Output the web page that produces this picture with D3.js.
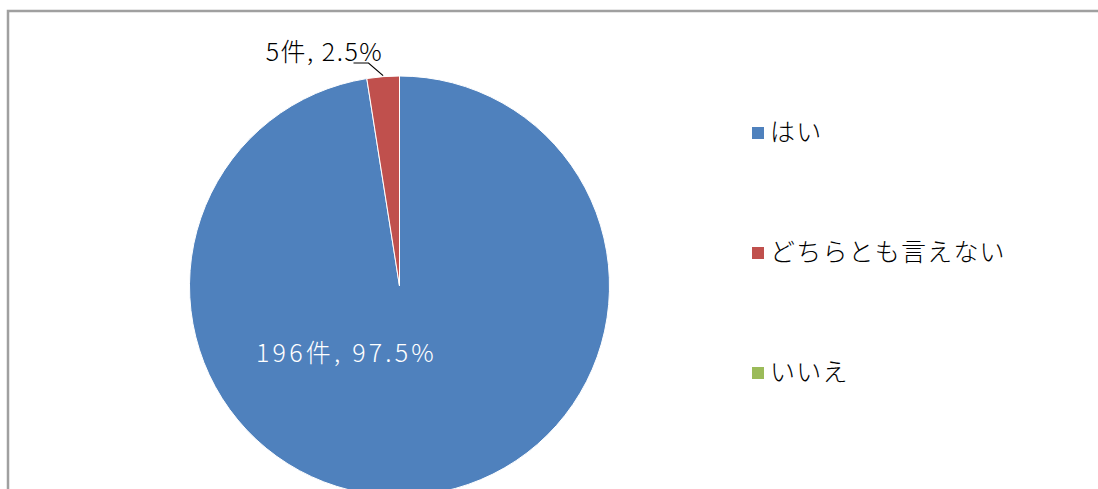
<!DOCTYPE html>
<html>
<head>
<meta charset="utf-8">
<script src="https://cdn.jsdelivr.net/npm/d3@7"></script>
<style>
  body { margin: 0; background: #fff; }
  text { font-family: "Noto Sans CJK JP", sans-serif; }
</style>
</head>
<body>
<div id="pie-chart"></div>
<script>
// Data
const categories = ["はい", "どちらとも言えない", "いいえ"];
const counts = [196, 5, 0];
const colors = ["#4F81BD", "#C0504D", "#9BBB59"];

const width = 1098;
const height = 489;
const total = d3.sum(counts);

const svg = d3.select("#pie-chart")
  .append("svg")
    .attr("width", width)
    .attr("height", height);

// Chart frame
svg.append("path")
    .attr("d", `M8,${height} V11 H${width}`)
    .attr("fill", "none")
    .attr("stroke", "#a0a0a0")
    .attr("stroke-width", 2.5);

/*****************/
/*      Pie      */
/*****************/
const cx = 399.5;
const cy = 286;
const radius = 210;

const pie = d3.pie().sort(null).value(d => d.value);
const arcs = pie(categories.map((c, i) => ({category: c, value: counts[i], color: colors[i]})));
const arc = d3.arc().innerRadius(0).outerRadius(radius);

const pieGroup = svg.append("g")
    .attr("transform", `translate(${cx}, ${cy})`);

pieGroup.selectAll("path")
  .data(arcs.filter(d => d.data.value > 0))
  .join("path")
    .attr("d", arc)
    .attr("fill", d => d.data.color)
    .attr("stroke", "#fff")
    .attr("stroke-width", 1);

const pct = v => (v / total * 100).toFixed(1) + "%";

// Label inside the big slice
pieGroup.append("text")
    .attr("x", -53)
    .attr("y", 76)
    .attr("text-anchor", "middle")
    .attr("font-size", 25)
    .attr("font-weight", 300)
    .attr("letter-spacing", 3.2)
    .attr("fill", "#fff")
    .text(`${counts[0]}件, ${pct(counts[0])}`);

// Label outside the small slice with a leader line
const small = arcs[1];
const mid = (small.startAngle + small.endAngle) / 2;
const edge = [Math.sin(mid) * radius, -Math.cos(mid) * radius];
pieGroup.append("path")
    .attr("d", `M${-46},${-223} H${-31} L${edge[0]},${edge[1] - 1}`)
    .attr("fill", "none")
    .attr("stroke", "#000")
    .attr("stroke-width", 1.2);
pieGroup.append("text")
    .attr("x", -75)
    .attr("y", -225)
    .attr("text-anchor", "middle")
    .attr("font-size", 25)
    .attr("font-weight", 300)
    .attr("letter-spacing", 1.5)
    .attr("fill", "#000")
    .text(`${counts[1]}件, ${pct(counts[1])}`);

/*****************/
/*    Legend     */
/*****************/
const legend = svg.append("g")
  .selectAll("g")
  .data(categories)
  .join("g")
    .attr("transform", (d, i) => `translate(752, ${133 + i * 120})`);

legend.append("rect")
    .attr("y", -6)
    .attr("width", 12)
    .attr("height", 12)
    .attr("fill", (d, i) => colors[i]);

legend.append("text")
    .attr("x", 18)
    .attr("y", 1)
    .attr("dominant-baseline", "middle")
    .attr("font-size", 25)
    .attr("font-weight", 300)
    .attr("letter-spacing", 1.2)
    .attr("fill", "#000")
    .text(d => d);
</script>
</body>
</html>
